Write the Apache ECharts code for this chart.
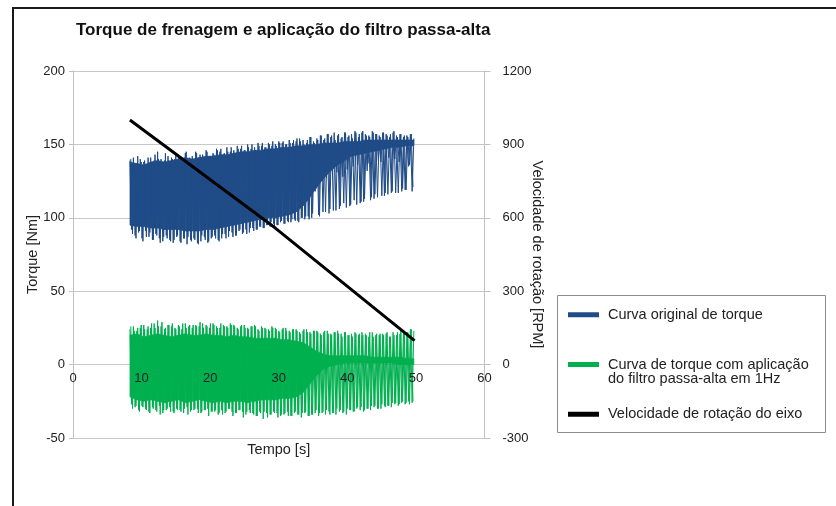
<!DOCTYPE html>
<html><head><meta charset="utf-8">
<script src="https://cdn.jsdelivr.net/npm/echarts@6/dist/echarts.min.js"></script>
<style>html,body{margin:0;padding:0;background:#fff}#c{width:836px;height:506px}</style>
</head><body><div id="c"></div>
<script>
// ---------- data ----------
const chartTitle = 'Torque de frenagem e aplicação do filtro passa-alta';
const seriesNames = ['Curva original de torque', 'Curva de torque com aplicação do filtro passa-alta em 1Hz', 'Velocidade de rotação do eixo'];
const legendLabels = ['Curva original de torque', '\nCurva de torque com aplicação\ndo filtro passa-alta em 1Hz', 'Velocidade de rotação do eixo'];
const xTicks = [0, 10, 20, 30, 40, 50, 60];
const torqueTicks = [-50, 0, 50, 100, 150, 200];
const rpmTicks = [-300, 0, 300, 600, 900, 1200];

// time span of the recorded signal [s]
const startTime = 8.3;
const endTime = 49.7;

// solid (dense) part of the signals, sampled once per ~1 s
const blueCoreHigh = [138,137,136,138,139,138,139,140,141,140,141,142,142,143,143,144,145,145,146,146,147,147,148,148,149,149,150,150,151,151,151,152,152,152,153,153,153,153,153,153,153,153];
const blueCoreLow  = [95,94,94,93,93,92,92,92,91,91,91,92,92,93,94,95,96,97,98,99,100,100,101,102,104,108,114,121,127,132,136,139,142,143,144,145,146,147,148,148,149,149];
const greenCoreHigh = [20,21,19,20,21,20,19,20,21,20,20,21,20,20,19,20,19,19,18,18,18,18,17,17,16,15,12,9,7,6,6,6,6,6,6,5,5,5,5,5,4,4];
const greenCoreLow  = [-22,-24,-25,-24,-25,-26,-25,-24,-26,-25,-24,-25,-26,-25,-26,-25,-25,-26,-25,-24,-24,-24,-23,-23,-22,-19,-13,-7,-3,-1,0,1,1,1,1,1,1,1,1,0,0,0];

// oscillation extremes (alternating peak / trough), ~4 per second
const blueOsc = [
 139,92,141,88, 137,90,140,86, 138,91,136,87, 141,85,139,89, 145,86,140,84,
 139,88,142,85, 141,83,140,87, 143,84,141,86, 144,82,140,85, 142,86,145,83,
 141,84,143,87, 146,83,142,86, 144,88,147,85, 145,86,143,89, 148,87,145,90,
 146,88,149,91, 147,89,146,92, 150,90,147,93, 148,92,151,94, 149,93,148,95,
 151,94,149,96, 150,95,152,97, 151,96,150,98, 153,97,151,99, 152,98,154,100,
 153,99,151,101, 155,100,152,118, 154,102,156,125, 153,104,157,103, 155,130,158,105,
 156,106,154,128, 158,107,155,108, 157,135,159,109, 155,110,158,111, 157,132,156,112,
 159,113,157,114, 156,138,158,115, 157,116,155,117, 158,140,156,117, 157,118,155,119,
 156,135,157,118, 154];
// second set of extremes, half a step later
const blueOscB = [
 140,89,137,86, 142,91,138,84, 139,87,141,90, 137,85,143,88, 140,83,138,87,
 144,86,139,84, 140,85,143,88, 142,83,139,86, 145,87,141,84, 139,85,144,82,
 143,88,140,85, 145,84,142,87, 143,86,146,84, 147,89,144,86, 145,91,148,87,
 144,88,147,92, 149,90,146,89, 148,93,150,91, 146,92,149,94, 151,93,148,95,
 150,97,152,94, 149,95,151,98, 152,96,150,97, 151,99,153,98, 154,97,152,100,
 150,101,153,99, 155,103,151,120, 153,101,156,104, 154,127,157,106, 156,105,153,131,
 157,108,155,110, 158,133,156,109, 154,112,158,136, 157,111,159,113, 156,137,155,114,
 158,116,157,139, 155,115,158,117, 156,141,157,118, 159,117,155,138, 157,120,156,119,
 155,136,157,121];
const greenOsc = [
 24,-27,26,-29, 23,-31,25,-28, 27,-30,24,-32, 25,-29,28,-31, 30,-28,26,-33,
 24,-31,27,-29, 26,-32,25,-30, 27,-31,24,-33, 28,-29,26,-32, 25,-31,27,-30,
 26,-33,28,-31, 27,-30,25,-32, 28,-32,26,-34, 25,-31,27,-33, 26,-30,28,-32,
 27,-33,25,-31, 26,-32,27,-34, 25,-31,26,-33, 27,-35,24,-32, 26,-37,25,-33,
 24,-34,26,-32, 25,-33,23,-35, 24,-34,25,-32, 23,-35,24,-33, 24,-34,22,-36,
 23,-33,24,-35, 22,-34,23,-33, 23,-35,21,-33, 22,-34,23,-32, 21,-33,22,-34,
 23,-32,21,-33, 22,-34,20,-31, 21,-32,22,-30, 20,-31,22,-32, 21,-30,19,-31,
 22,-29,20,-30, 20,-30,21,-28, 21,-28,19,-29, 22,-27,20,-28, 21,-26,23,-27,
 22,-25,24,-26, 23];
const greenOscB = [
 26,-30,23,-28, 25,-32,27,-29, 24,-31,26,-33, 28,-30,25,-32, 26,-34,29,-31,
 25,-30,27,-32, 28,-33,24,-31, 26,-32,28,-30, 25,-34,27,-31, 27,-30,26,-33,
 29,-32,25,-31, 26,-35,28,-32, 27,-31,25,-33, 28,-34,26,-32, 25,-30,27,-35,
 26,-33,24,-31, 27,-36,25,-32, 24,-33,26,-34, 26,-35,23,-33, 25,-32,24,-36,
 23,-34,25,-33, 24,-36,22,-34, 25,-33,23,-35, 22,-35,24,-32, 23,-34,21,-33,
 24,-32,22,-35, 21,-34,23,-31, 22,-33,20,-32, 23,-31,21,-34, 20,-33,22,-30,
 21,-31,19,-32, 22,-30,20,-31, 19,-32,21,-29, 21,-29,20,-31, 20,-30,22,-28,
 19,-28,21,-30, 21,-27,20,-29, 22,-28,19,-26, 20,-26,22,-27, 23,-25,21,-26,
 22,-27,24,-25];

// shaft speed [RPM]
const speedTime = [8.3, 29.5, 49.8];
const speedRpm = [1000, 558, 98];

// ---------- helpers ----------
function timed(values, stepOf, shift) {
  const n = stepOf || values.length;
  const step = (endTime - startTime) / (n - 1);
  const off = (shift || 0) * step;
  return values.map((v, i) => [+(startTime + off + i * step).toFixed(4), v]);
}
function bandSegments(hi, lo) {
  const h = timed(hi), l = timed(lo), out = [];
  for (let i = 0; i < h.length - 1; i++) {
    out.push([h[i][0], l[i][1], h[i][1], h[i + 1][0], l[i + 1][1], h[i + 1][1]]);
  }
  return out;
}
function bandRenderer(color) {
  return function (params, api) {
    const a = api.coord([api.value(0), api.value(2)]);
    const b = api.coord([api.value(3), api.value(5)]);
    const c = api.coord([api.value(3), api.value(4)]);
    const d = api.coord([api.value(0), api.value(1)]);
    return {type: 'polygon', shape: {points: [a, b, c, d]},
      style: {fill: color, stroke: color, lineWidth: 0.6}};
  };
}

const BLUE = '#1f4b87';
const GREEN = '#00b04f';
const FONT = '"Liberation Sans", Arial, sans-serif';
const TXT = '#222';

// pixel geometry of the plot area
const GRID_TOP = 71, GRID_BOTTOM_PX = 438;
const zeroPx = GRID_TOP + (GRID_BOTTOM_PX - GRID_TOP) * torqueTicks[torqueTicks.length - 1] / (torqueTicks[torqueTicks.length - 1] - torqueTicks[0]);

const chart = echarts.init(document.getElementById('c'), null, {renderer: 'canvas'});
const legendCommon = {
  orient: 'vertical', left: 568, padding: 0, icon: 'rect', itemWidth: 31, itemHeight: 5,
  selectedMode: false
};
const legendText = {fontFamily: FONT, fontSize: 14.5, color: TXT, lineHeight: 14.5, padding: [0, 0, 0, 4]};
const oscLine = (color) => ({width: 1, color: color});
chart.setOption({
  animation: false,
  backgroundColor: '#fff',
  title: {
    text: chartTitle, left: 76, top: 22, padding: 0,
    textStyle: {fontFamily: FONT, fontSize: 17, fontWeight: 'bold', color: '#111'}
  },
  legend: [
    Object.assign({}, legendCommon, {data: [seriesNames[0]], top: 307.25,
      formatter: () => legendLabels[0], textStyle: legendText}),
    Object.assign({}, legendCommon, {data: [seriesNames[1]], top: 342.5,
      formatter: () => legendLabels[1], textStyle: legendText}),
    Object.assign({}, legendCommon, {data: [seriesNames[2]], top: 406.75,
      formatter: () => legendLabels[2], textStyle: legendText})
  ],
  grid: {left: 73, right: 351.5, top: GRID_TOP, bottom: 506 - GRID_BOTTOM_PX, containLabel: false, outerBoundsMode: 'none'},
  xAxis: {
    type: 'value', min: xTicks[0], max: xTicks[xTicks.length - 1], interval: 10, z: 10,
    offset: -(GRID_BOTTOM_PX - zeroPx),
    axisLine: {show: false, onZero: false},
    axisTick: {show: false},
    splitLine: {show: false},
    axisLabel: {margin: 7, fontFamily: FONT, fontSize: 13, color: TXT},
    name: 'Tempo [s]', nameLocation: 'middle', nameGap: 78, nameMoveOverlap: false,
    nameTextStyle: {fontFamily: FONT, fontSize: 14.5, color: TXT}
  },
  yAxis: [
    {
      type: 'value', position: 'left', min: torqueTicks[0], max: torqueTicks[torqueTicks.length - 1], interval: 50,
      axisLine: {show: true, onZero: false, lineStyle: {color: '#c0c0c0'}},
      axisTick: {show: true, length: 4, lineStyle: {color: '#c0c0c0'}},
      splitLine: {show: true, lineStyle: {color: '#c8c8c8', width: 1}},
      axisLabel: {margin: 8, fontFamily: FONT, fontSize: 13, color: TXT, formatter: v => String(v)},
      name: 'Torque [Nm]', nameLocation: 'middle', nameGap: 33, nameMoveOverlap: false,
      nameTextStyle: {fontFamily: FONT, fontSize: 14.5, color: TXT}
    },
    {
      type: 'value', position: 'right', min: rpmTicks[0], max: rpmTicks[rpmTicks.length - 1], interval: 300,
      axisLine: {show: true, onZero: false, lineStyle: {color: '#c0c0c0'}},
      axisTick: {show: true, length: 6, lineStyle: {color: '#c0c0c0'}},
      splitLine: {show: false},
      axisLabel: {margin: 18, fontFamily: FONT, fontSize: 13, color: TXT, formatter: v => String(v)},
      name: 'Velocidade de rotação [RPM]', nameLocation: 'middle', nameGap: 45, nameRotate: -90, nameMoveOverlap: false,
      nameTextStyle: {fontFamily: FONT, fontSize: 14.5, color: TXT}
    }
  ],
  graphic: [
    {type: 'line', shape: {x1: 12, y1: 8, x2: 836, y2: 8}, style: {stroke: '#1a1a1a', lineWidth: 2}},
    {type: 'line', shape: {x1: 13, y1: 8, x2: 13, y2: 506}, style: {stroke: '#1a1a1a', lineWidth: 2}},
    {type: 'rect', z: -1, shape: {x: 557.5, y: 295.5, width: 268, height: 137},
      style: {fill: '#fff', stroke: '#8c8c8c', lineWidth: 1}}
  ],
  series: [
    {name: 'blueCore', type: 'custom', data: bandSegments(blueCoreHigh, blueCoreLow),
      encode: {x: [0, 3], y: [1, 2, 4, 5]}, renderItem: bandRenderer(BLUE), silent: true, z: 2},
    {name: seriesNames[0], type: 'line', data: timed(blueOsc), symbol: 'none', color: BLUE,
      lineStyle: oscLine(BLUE), z: 3},
    {name: seriesNames[0], type: 'line', data: timed(blueOscB, blueOsc.length, 0.5), symbol: 'none', color: BLUE,
      lineStyle: oscLine(BLUE), z: 3},
    {name: 'greenCore', type: 'custom', data: bandSegments(greenCoreHigh, greenCoreLow),
      encode: {x: [0, 3], y: [1, 2, 4, 5]}, renderItem: bandRenderer(GREEN), silent: true, z: 2},
    {name: seriesNames[1], type: 'line', data: timed(greenOsc), symbol: 'none', color: GREEN,
      lineStyle: oscLine(GREEN), z: 3},
    {name: seriesNames[1], type: 'line', data: timed(greenOscB, greenOsc.length, 0.5), symbol: 'none', color: GREEN,
      lineStyle: oscLine(GREEN), z: 3},
    {name: seriesNames[2], type: 'line', yAxisIndex: 1,
      data: speedTime.map((t, i) => [t, speedRpm[i]]), symbol: 'none', color: '#000',
      lineStyle: {width: 3, color: '#000'}, z: 5}
  ]
});
</script></body></html>
